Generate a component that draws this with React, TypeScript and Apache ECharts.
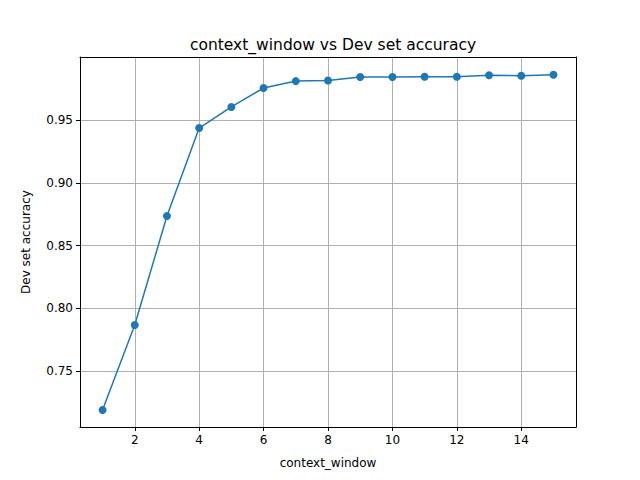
import { useRef, useEffect } from 'react'
import * as echarts from 'echarts'

const contextWindow = [1, 2, 3, 4, 5, 6, 7, 8, 9, 10, 11, 12, 13, 14, 15]
const devAccuracy = [0.719, 0.7867, 0.8735, 0.9436, 0.9604, 0.9755, 0.981, 0.9815, 0.9843, 0.9843, 0.9845, 0.9845, 0.9857, 0.9853, 0.9861]
const xTicks = [2, 4, 6, 8, 10, 12, 14]
const yTicks = [0.75, 0.8, 0.85, 0.9, 0.95]

const FONT = 'DejaVu Sans, sans-serif'

export default function App() {
  const ref = useRef<HTMLDivElement>(null)

  useEffect(() => {
    if (!ref.current) return
    const chart = echarts.init(ref.current, undefined, { renderer: 'svg' })
    const frame = { show: true, onZero: false, lineStyle: { color: '#000', width: 1 } }
    chart.setOption({
      animation: false,
      backgroundColor: '#fff',
      title: {
        text: 'context_window vs Dev set accuracy',
        left: 328, top: 32, textAlign: 'center',
        textStyle: { fontFamily: FONT, fontSize: 15.5, fontWeight: 'normal', color: '#000' },
      },
      grid: { left: 80, right: 64, top: 57, bottom: 53 },
      xAxis: [
        {
          type: 'value', min: 0.3, max: 15.7,
          name: 'context_window', nameLocation: 'middle', nameGap: 30,
          nameTextStyle: { fontFamily: FONT, fontSize: 12, color: '#000' },
          axisLine: frame,
          axisTick: { show: true, customValues: xTicks, length: 4, lineStyle: { color: '#000' } },
          axisLabel: { customValues: xTicks, fontFamily: FONT, fontSize: 12, color: '#000', margin: 7 },
          splitLine: { show: true, lineStyle: { color: '#b0b0b0', width: 1 } },
        },
        {
          type: 'value', position: 'top', min: 0.3, max: 15.7,
          axisLine: frame, axisTick: { show: false }, axisLabel: { show: false }, splitLine: { show: false },
        },
      ],
      yAxis: [
        {
          type: 'value', min: 0.7054, max: 1.0002,
          name: 'Dev set accuracy', nameLocation: 'middle', nameGap: 48,
          nameTextStyle: { fontFamily: FONT, fontSize: 12, color: '#000' },
          axisLine: frame,
          axisTick: { show: true, customValues: yTicks, length: 4, lineStyle: { color: '#000' } },
          axisLabel: {
            customValues: yTicks, fontFamily: FONT, fontSize: 12, color: '#000', margin: 7,
            formatter: (v: number) => v.toFixed(2),
          },
          splitLine: { show: true, lineStyle: { color: '#b0b0b0', width: 1 } },
        },
        {
          type: 'value', position: 'right', min: 0.7054, max: 1.0002,
          axisLine: frame, axisTick: { show: false }, axisLabel: { show: false }, splitLine: { show: false },
        },
      ],
      series: [
        {
          type: 'line',
          data: contextWindow.map((x, i) => [x, devAccuracy[i]]),
          symbol: 'circle', symbolSize: 8,
          lineStyle: { color: '#1f77b4', width: 1.5 },
          itemStyle: { color: '#1f77b4' },
        },
      ],
    })
    return () => chart.dispose()
  }, [])

  return <div ref={ref} style={{ position: 'absolute', left: 0, top: 0, width: 640, height: 480 }} />
}
